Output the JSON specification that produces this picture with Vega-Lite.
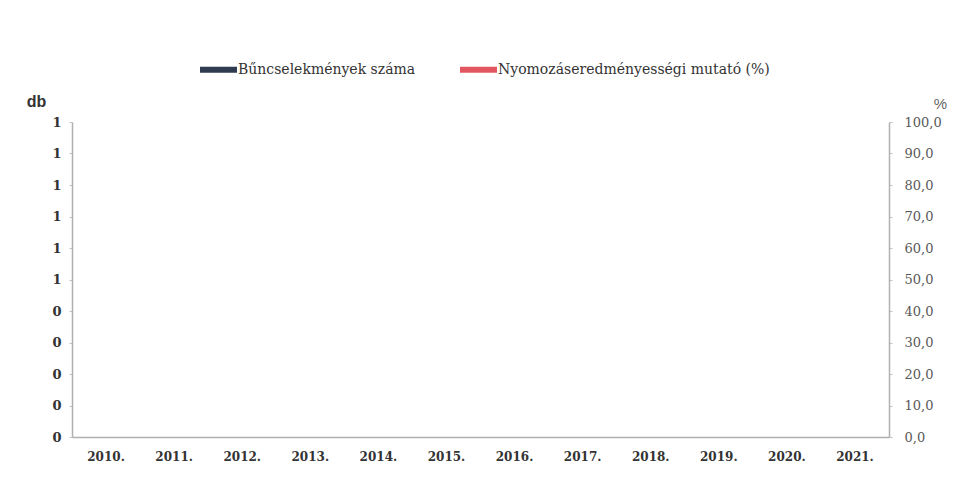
{
  "$schema": "https://vega.github.io/schema/vega-lite/v6.json",
  "autosize": {"type": "none"},
  "width": 817,
  "height": 315,
  "padding": {"left": 72, "top": 122, "right": 71, "bottom": 51},
  "background": "white",
  "config": {"view": {"stroke": null}, "font": "DejaVu Serif"},
  "data": {"values": [
    {"year": "2010.", "count": 0, "pct": null},
    {"year": "2011.", "count": 0, "pct": null},
    {"year": "2012.", "count": 0, "pct": null},
    {"year": "2013.", "count": 0, "pct": null},
    {"year": "2014.", "count": 0, "pct": null},
    {"year": "2015.", "count": 0, "pct": null},
    {"year": "2016.", "count": 0, "pct": null},
    {"year": "2017.", "count": 0, "pct": null},
    {"year": "2018.", "count": 0, "pct": null},
    {"year": "2019.", "count": 0, "pct": null},
    {"year": "2020.", "count": 0, "pct": null},
    {"year": "2021.", "count": 0, "pct": null}
  ]},
  "encoding": {
    "x": {
      "field": "year", "type": "ordinal", "sort": null,
      "scale": {"domain": ["2010.","2011.","2012.","2013.","2014.","2015.","2016.","2017.","2018.","2019.","2020.","2021."], "paddingInner": 0.4, "paddingOuter": 0.2},
      "axis": {
        "title": null, "labelAngle": 0, "ticks": false, "labelPadding": 14,
        "labelFont": "DejaVu Serif", "labelFontWeight": "bold", "labelFontSize": 12, "labelColor": "#333333",
        "domainColor": "#b0b0b0", "domainWidth": 1.5
      }
    }
  },
  "layer": [
    {
      "mark": {"type": "bar"},
      "encoding": {
        "y": {
          "field": "count", "type": "quantitative",
          "scale": {"domain": [0, 1], "nice": false},
          "axis": {
            "orient": "left", "values": [0,0.1,0.2,0.3,0.4,0.5,0.6,0.7,0.8,0.9,1],
            "labelExpr": "format(datum.value, '.0f')",
            "grid": false, "tickSize": 3, "tickColor": "#c0c0c0", "labelPadding": 8,
            "domainColor": "#b0b0b0", "domainWidth": 1.5,
            "labelFont": "DejaVu Serif", "labelFontWeight": "bold", "labelFontSize": 13, "labelColor": "#333333",
            "title": "db", "titleAngle": 0, "titleX": -36, "titleY": -21, "titleAlign": "center", "titleBaseline": "middle",
            "titleFont": "Liberation Sans", "titleFontWeight": "bold", "titleFontSize": 16, "titleColor": "#333333"
          }
        },
        "color": {
          "datum": "Bűncselekmények száma",
          "scale": {"domain": ["Bűncselekmények száma", "Nyomozáseredményességi mutató (%)"], "range": ["#2f3b4f", "#e2575f"]},
          "legend": {
            "title": null, "orient": "none", "direction": "horizontal", "legendX": 128, "legendY": -71,
            "symbolType": "M-1,-0.16H1V0.16H-1Z", "symbolSize": 1369, "symbolStrokeWidth": 0, "symbolOpacity": 1,
            "labelFont": "DejaVu Serif", "labelFontSize": 14, "labelColor": "#333333", "labelOffset": 1, "labelLimit": 0,
            "columnPadding": 44
          }
        }
      }
    },
    {
      "mark": {"type": "line", "strokeWidth": 3},
      "encoding": {
        "y": {
          "field": "pct", "type": "quantitative",
          "scale": {"domain": [0, 100], "nice": false},
          "axis": {
            "orient": "right", "values": [0,10,20,30,40,50,60,70,80,90,100],
            "labelExpr": "replace(format(datum.value, '.1f'), '.', ',')",
            "grid": false, "tickSize": 3, "tickColor": "#c0c0c0", "labelPadding": 12,
            "domainColor": "#b0b0b0", "domainWidth": 1.5,
            "labelFont": "DejaVu Serif", "labelFontSize": 13, "labelColor": "#595959",
            "title": "%", "titleAngle": 0, "titleX": 51, "titleY": -19, "titleAlign": "center", "titleBaseline": "middle",
            "titleFont": "Liberation Sans", "titleFontWeight": "normal", "titleFontSize": 15, "titleColor": "#666666"
          }
        },
        "color": {"datum": "Nyomozáseredményességi mutató (%)"}
      }
    }
  ],
  "resolve": {"scale": {"y": "independent"}}
}
